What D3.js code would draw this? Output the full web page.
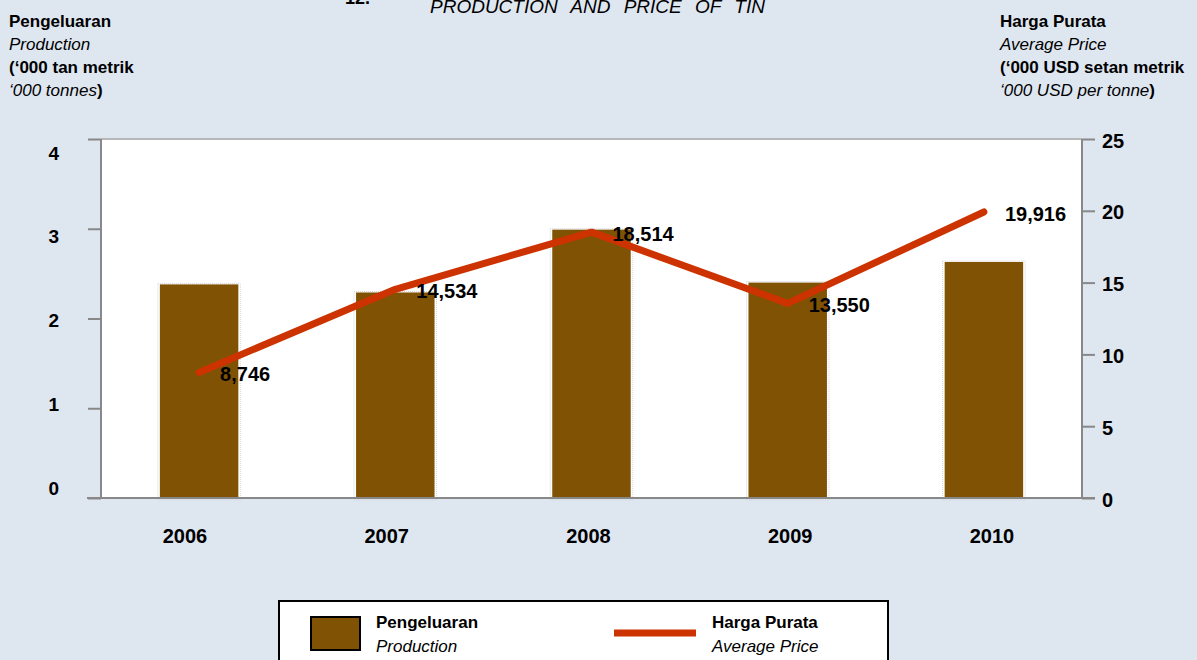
<!DOCTYPE html>
<html>
<head>
<meta charset="utf-8">
<script src="https://d3js.org/d3.v7.min.js"></script>
<style>
  body { margin: 0; background: #dee6f0; }
  text { font-family: "Liberation Sans", Arial, sans-serif; }
  .tick text { font-weight: bold; fill: #000; }
</style>
</head>
<body>
<div id="chart"></div>
<script>
// chart data
var years = ["2006", "2007", "2008", "2009", "2010"];
var production = [2.38, 2.29, 2.99, 2.40, 2.63];     // '000 tonnes
var price = [8.746, 14.534, 18.514, 13.550, 19.916];  // '000 USD per tonne
var leftTicks = [0, 1, 2, 3, 4];
var rightTicks = [0, 5, 10, 15, 20, 25];

function drawChart(){

    var w = 1197;
    var h = 660;
    var left = 101, right = 1082, top = 139, bottom = 498;

    var svg = d3.select("#chart")
            .append("svg")
            .attr("width", w)
            .attr("height", h);

    var xScale = d3.scaleBand()
                    .domain(years)
                    .range([left, right])
                    .paddingInner(0.6)
                    .paddingOuter(0.3);

    // year labels sit a little wider apart than the bars
    var labelX = d3.scalePoint()
                    .domain(years)
                    .range([185, 992]);

    var yLeft = d3.scaleLinear()
                    .domain([0, 4])
                    .range([bottom, top]);

    // left tick labels are squeezed a bit compared to the ticks
    var yLeftLabel = d3.scaleLinear()
                    .domain([0, 4])
                    .range([488, 153]);

    var yRight = d3.scaleLinear()
                    .domain([0, 25])
                    .range([bottom, top]);

    // plot area
    svg.append("rect")
        .attr("x", left)
        .attr("y", top)
        .attr("width", right - left)
        .attr("height", bottom - top)
        .attr("fill", "#fff");

    svg.append("line")
        .attr("x1", left).attr("x2", right)
        .attr("y1", top).attr("y2", top)
        .attr("stroke", "#b8b8b8")
        .attr("stroke-width", 2);

    // bars
    var bars = svg.append("g");
    bars.selectAll("rect.shadow")
        .data(production)
        .enter()
        .append("rect")
        .attr("class", "shadow")
        .attr("x", function(d, i){ return xScale(years[i]) - 2; })
        .attr("y", function(d){ return yLeft(d) - 1; })
        .attr("width", xScale.bandwidth() + 4)
        .attr("height", function(d){ return bottom - yLeft(d) + 3; })
        .attr("fill", "none")
        .attr("stroke", "#d4d4d4")
        .attr("stroke-width", 1)
        .attr("stroke-dasharray", "1,1");

    bars.selectAll("rect.bar")
        .data(production)
        .enter()
        .append("rect")
        .attr("class", "bar")
        .attr("x", function(d, i){ return xScale(years[i]); })
        .attr("y", function(d){ return yLeft(d); })
        .attr("width", xScale.bandwidth())
        .attr("height", function(d){ return bottom - yLeft(d); })
        .attr("fill", "#805204");

    // axes
    var axisL = svg.append("g")
        .attr("transform", "translate(" + left + ",0)")
        .call(d3.axisLeft(yLeft).tickValues(leftTicks).tickSize(13).tickFormat(""));
    axisL.select(".domain").remove();
    axisL.selectAll(".tick line").attr("stroke", "#888").attr("stroke-width", 2);

    svg.append("line")
        .attr("x1", left).attr("x2", left)
        .attr("y1", top).attr("y2", bottom)
        .attr("stroke", "#888").attr("stroke-width", 2);

    svg.append("g").selectAll("text")
        .data(leftTicks)
        .enter()
        .append("text")
        .attr("x", 59)
        .attr("y", function(d){ return yLeftLabel(d); })
        .attr("dy", "0.35em")
        .attr("text-anchor", "end")
        .attr("font-size", 19)
        .attr("font-weight", "bold")
        .text(function(d){ return d; });

    var axisR = svg.append("g")
        .attr("transform", "translate(" + right + ",0)")
        .call(d3.axisRight(yRight).tickValues(rightTicks).tickSize(13).tickPadding(7));
    axisR.select(".domain").remove();
    axisR.selectAll(".tick line").attr("stroke", "#888").attr("stroke-width", 2);
    axisR.selectAll(".tick text").attr("font-size", 20).attr("dy", "0.4em");

    svg.append("line")
        .attr("x1", right).attr("x2", right)
        .attr("y1", top).attr("y2", bottom)
        .attr("stroke", "#888").attr("stroke-width", 2);

    svg.append("line")
        .attr("x1", left - 14).attr("x2", right + 13)
        .attr("y1", bottom).attr("y2", bottom)
        .attr("stroke", "#888").attr("stroke-width", 2);

    svg.append("g").selectAll("text")
        .data(years)
        .enter()
        .append("text")
        .attr("x", function(d){ return labelX(d); })
        .attr("y", 536)
        .attr("dy", "0.35em")
        .attr("text-anchor", "middle")
        .attr("font-size", 20)
        .attr("font-weight", "bold")
        .text(function(d){ return d; });

    // price line
    var line = d3.line()
        .x(function(d, i){ return xScale(years[i]) + xScale.bandwidth() / 2; })
        .y(function(d){ return yRight(d); });

    svg.append("path")
        .datum(price)
        .attr("d", line)
        .attr("fill", "none")
        .attr("stroke", "#cc3300")
        .attr("stroke-width", 7)
        .attr("stroke-linecap", "round")
        .attr("stroke-linejoin", "round");

    var fmt = d3.format(",");
    svg.append("g").selectAll("text")
        .data(price)
        .enter()
        .append("text")
        .attr("x", function(d, i){ return xScale(years[i]) + xScale.bandwidth() / 2 + 21; })
        .attr("y", function(d){ return yRight(d) + 2; })
        .attr("dy", "0.35em")
        .attr("font-size", 20)
        .attr("font-weight", "bold")
        .text(function(d){ return fmt(Math.round(d * 1000)); });

    // title (cut off at the top, as in the source page)
    svg.append("text")
        .attr("x", 345).attr("y", 4)
        .attr("font-size", 18).attr("font-weight", "bold")
        .text("12.");
    svg.append("text")
        .attr("x", 430).attr("y", 13)
        .attr("font-size", 19).attr("font-style", "italic")
        .attr("word-spacing", 8)
        .text("PRODUCTION AND PRICE OF TIN");

    // axis headers
    function header(x, lines){
        var g = svg.append("g");
        lines.forEach(function(l, i){
            var t = g.append("text")
                .attr("x", x)
                .attr("y", 27 + i * 23)
                .attr("font-size", 17);
            if (l.bold) t.attr("font-weight", "bold");
            if (l.italic) t.attr("font-style", "italic");
            t.append("tspan").text(l.text);
            if (l.tail) t.append("tspan").attr("font-weight", "bold").attr("font-style", "normal").text(l.tail);
        });
    }
    header(9, [
        {text: "Pengeluaran", bold: true},
        {text: "Production", italic: true},
        {text: "(\u2018000  tan metrik", bold: true},
        {text: "\u2018000  tonnes", italic: true, tail: ")"}
    ]);
    header(1000, [
        {text: "Harga Purata", bold: true},
        {text: "Average Price", italic: true},
        {text: "(\u2018000 USD setan metrik", bold: true},
        {text: "\u2018000 USD per tonne", italic: true, tail: ")"}
    ]);

    // legend
    var lg = svg.append("g");
    lg.append("rect")
        .attr("x", 279).attr("y", 601)
        .attr("width", 609).attr("height", 70)
        .attr("fill", "#fff")
        .attr("stroke", "#000")
        .attr("stroke-width", 2);
    lg.append("rect")
        .attr("x", 311).attr("y", 617)
        .attr("width", 49).attr("height", 33)
        .attr("fill", "#805204")
        .attr("stroke", "#000")
        .attr("stroke-width", 2);
    lg.append("line")
        .attr("x1", 614).attr("x2", 696)
        .attr("y1", 633).attr("y2", 633)
        .attr("stroke", "#cc3300")
        .attr("stroke-width", 7);
    [[376, "Pengeluaran", "Production"], [712, "Harga Purata", "Average Price"]].forEach(function(e){
        lg.append("text").attr("x", e[0]).attr("y", 628)
            .attr("font-size", 17).attr("font-weight", "bold").text(e[1]);
        lg.append("text").attr("x", e[0]).attr("y", 652)
            .attr("font-size", 17).attr("font-style", "italic").text(e[2]);
    });
}

window.onload = drawChart;
</script>
</body>
</html>
